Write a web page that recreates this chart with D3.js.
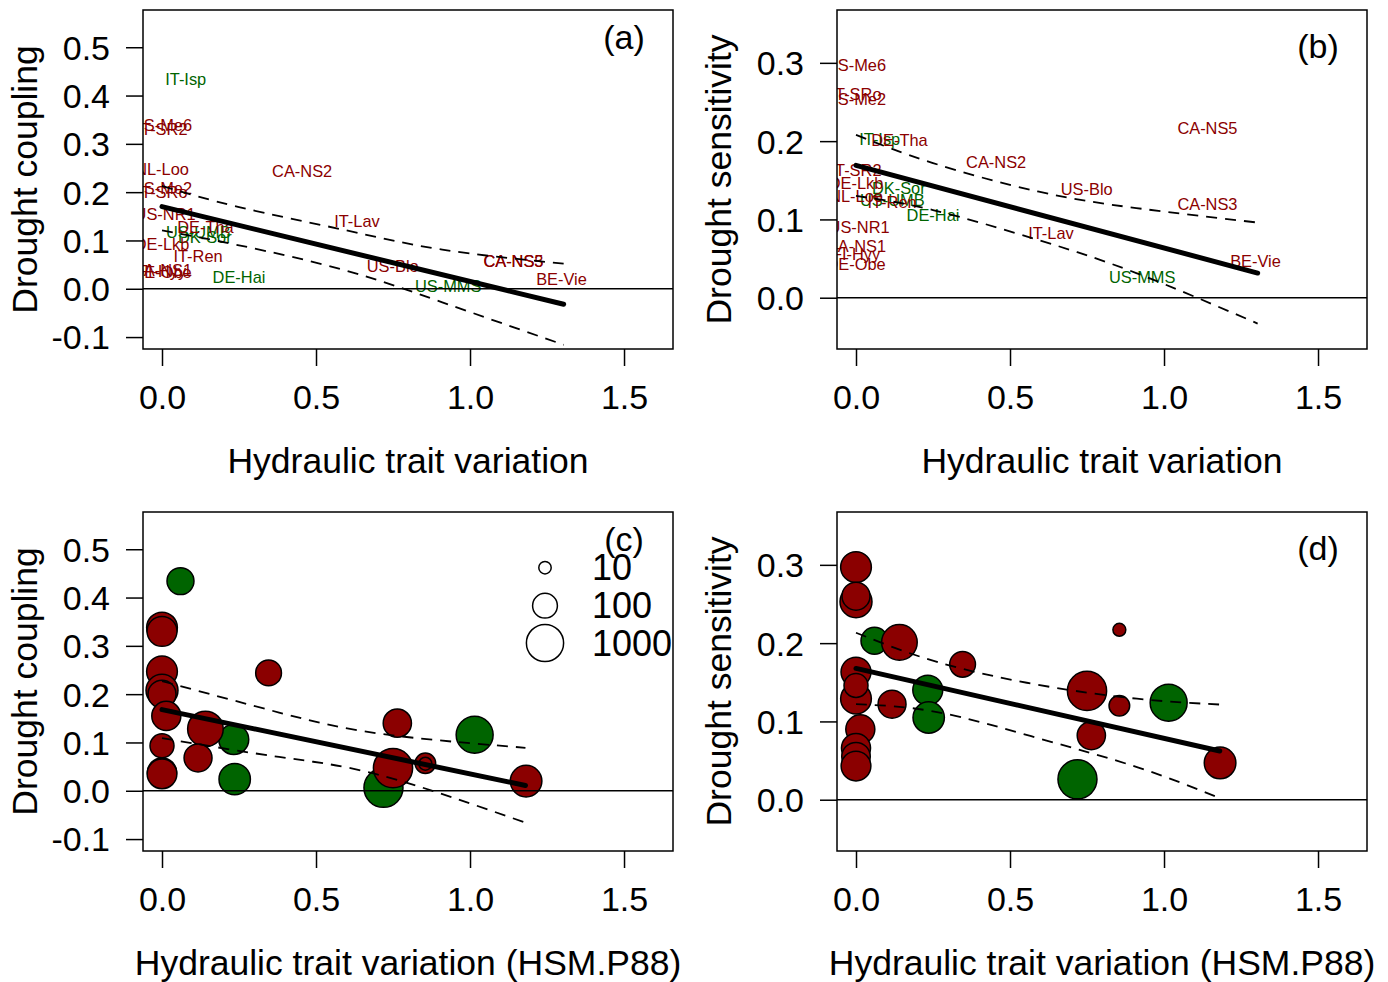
<!DOCTYPE html>
<html><head><meta charset="utf-8">
<script src="https://cdn.jsdelivr.net/npm/d3@7"></script>
<style>
body{margin:0;background:#fff}
svg{display:block}
text{font-family:"Liberation Sans",Arial,Helvetica,sans-serif}
</style>
</head><body>
<svg id="chart" width="1388" height="982"></svg>
<script>
// ---------------- DATA ----------------
const sites = ["IT-Isp","US-Me6","IT-SR2","NL-Loo","US-Me2","IT-SRo","CA-NS2","US-NR1","IT-Lav","DE-Tha","US-UMB","DK-Sor","DE-Lkb","IT-Ren","CA-NS3","CA-NS5","US-Blo","CA-NS1","FI-Hyy","DE-Obe","DE-Hai","BE-Vie","US-MMS"];
const pft = ["DBF","ENF","ENF","ENF","ENF","ENF","ENF","ENF","ENF","ENF","DBF","DBF","ENF","ENF","ENF","ENF","ENF","ENF","ENF","ENF","DBF","ENF","DBF"];
// Hydraulic trait variation (panels a, b)
const hydVar = [0.077,0,0,0,0,0,0.455,0.010,0.633,0.141,0.118,0.139,0,0.117,1.141,1.141,0.749,0,0,0,0.250,1.297,0.929];
// Hydraulic trait variation (HSM.P88) (panels c, d)
const hsmP88 = [0.060,0,0,0,0,0,0.346,0.014,0.764,0.141,1.015,0.233,0,0.117,0.855,0.855,0.750,0,0,0,0.236,1.182,0.719];
const coupling = [0.434,0.338,0.330,0.247,0.208,0.200,0.244,0.155,0.140,0.128,0.116,0.106,0.093,0.068,0.057,0.056,0.047,0.038,0.036,0.035,0.024,0.020,0.006];
const sensitivity = [0.203,0.297,0.163,0.129,0.253,0.260,0.173,0.090,0.082,0.201,0.124,0.140,0.146,0.122,0.120,0.217,0.139,0.066,0.055,0.043,0.105,0.047,0.026];
const sampleN = [150,300,260,300,380,180,120,220,190,740,960,260,86,180,46,11,1450,220,200,250,340,355,1400];
const legendN = [10,100,1000];

const xTicks = [0,0.5,1.0,1.5];
const couplingTicks = [-0.1,0,0.1,0.2,0.3,0.4,0.5];
const sensitivityTicks = [0,0.1,0.2,0.3];

// fitted lines and confidence bands
const fitA = {x:[0,1.304], y:[0.170,-0.032]};
const ciA = {x:[0,0.25,0.59,0.91,1.304], up:[0.213,0.169,0.122,0.081,0.052], lo:[0.121,0.090,0.039,-0.028,-0.116]};
const fitB = {x:[0,1.304], y:[0.169,0.0315]};
const ciB = {x:[0,0.25,0.59,0.91,1.304], up:[0.208,0.172,0.1357,0.1145,0.096], lo:[0.130,0.112,0.074,0.0315,-0.033]};
const fitC = {x:[0,1.18], y:[0.168,0.011]};
const ciC = {x:[0,0.38,0.71,1.18], up:[0.227,0.162,0.118,0.089], lo:[0.109,0.070,0.032,-0.066]};
const fitD = {x:[0,1.181], y:[0.1677,0.0622]};
const ciD = {x:[0,0.263,0.588,0.912,1.181], up:[0.2133,0.176,0.147,0.129,0.1216], lo:[0.122,0.112,0.079,0.0417,0.002]};

// ---------------- DRAWING ----------------
const colors = {ENF:"#8B0000", DBF:"#006400"};
const svg = d3.select("#chart");
const W = 530, H = 339;
const FONT = 34, TITLE_FONT = 35.5, LEGEND_FONT = 36;
const rScale = d3.scaleLog().domain([1,1000]).range([0,18.6]);

const panels = [
  {id:"a", left:143, top:10, xv:hydVar, yv:coupling, yDom:[-0.1247,0.5771], yTicks:couplingTicks, mode:"text",
   xTitle:"Hydraulic trait variation", yTitle:"Drought coupling", fit:fitA, ci:ciA, tagY:0.52},
  {id:"b", left:837, top:10, xv:hydVar, yv:sensitivity, yDom:[-0.0655,0.3675], yTicks:sensitivityTicks, mode:"text",
   xTitle:"Hydraulic trait variation", yTitle:"Drought sensitivity", fit:fitB, ci:ciB, tagY:0.322},
  {id:"c", left:143, top:512, xv:hsmP88, yv:coupling, yDom:[-0.1247,0.5771], yTicks:couplingTicks, mode:"bubble",
   xTitle:"Hydraulic trait variation (HSM.P88)", yTitle:"Drought coupling", fit:fitC, ci:ciC, tagY:0.52, legend:true},
  {id:"d", left:837, top:512, xv:hsmP88, yv:sensitivity, yDom:[-0.0655,0.3675], yTicks:sensitivityTicks, mode:"bubble",
   xTitle:"Hydraulic trait variation (HSM.P88)", yTitle:"Drought sensitivity", fit:fitD, ci:ciD, tagY:0.322}
];

const order = d3.range(sites.length).sort((a,b)=> (pft[a]===pft[b]?a-b:(pft[a]==="DBF"?-1:1)));
const fmt = d => d.toFixed(1);

panels.forEach(p => {
  const g = svg.append("g").attr("transform",`translate(${p.left},${p.top})`);
  const x = d3.scaleLinear().domain([-0.0617,1.659]).range([0,W]);
  const y = d3.scaleLinear().domain(p.yDom).range([H,0]);

  const clipId = "clip-"+p.id;
  g.append("clipPath").attr("id",clipId).append("rect").attr("width",W).attr("height",H);
  const plot = g.append("g").attr("clip-path",`url(#${clipId})`);

  if (p.mode === "text") {
    plot.selectAll("text.site").data(order).join("text")
      .attr("class","site")
      .attr("x", i => x(p.xv[i])).attr("y", i => y(p.yv[i]))
      .attr("dy","0.35em").attr("text-anchor","middle")
      .attr("font-size",16.4).attr("fill", i => colors[pft[i]])
      .text(i => sites[i]);
  } else {
    plot.selectAll("circle.site").data(order).join("circle")
      .attr("class","site")
      .attr("cx", i => x(p.xv[i])).attr("cy", i => y(p.yv[i]))
      .attr("r", i => rScale(sampleN[i]))
      .attr("fill", i => colors[pft[i]])
      .attr("stroke","#000").attr("stroke-width",1.5);
  }

  // zero line
  plot.append("line").attr("x1",0).attr("x2",W).attr("y1",y(0)).attr("y2",y(0))
    .attr("stroke","#000").attr("stroke-width",1.6);

  // confidence band
  const band = key => d3.line().curve(d3.curveNatural)
      .x((d,i)=>x(p.ci.x[i])).y(d=>y(d))(p.ci[key]);
  ["up","lo"].forEach(k=>{
    plot.append("path").attr("d",band(k)).attr("fill","none")
      .attr("stroke","#000").attr("stroke-width",1.8).attr("stroke-dasharray","11,8");
  });
  // fitted line
  plot.append("line")
    .attr("x1",x(p.fit.x[0])).attr("y1",y(p.fit.y[0]))
    .attr("x2",x(p.fit.x[1])).attr("y2",y(p.fit.y[1]))
    .attr("stroke","#000").attr("stroke-width",5).attr("stroke-linecap","round");

  // box
  g.append("rect").attr("width",W).attr("height",H).attr("fill","none")
    .attr("stroke","#000").attr("stroke-width",1.5);

  // axes
  const ax = g.append("g").attr("transform",`translate(0,${H})`)
    .call(d3.axisBottom(x).tickValues(xTicks).tickFormat(fmt).tickSize(17).tickSizeOuter(0).tickPadding(19));
  const ay = g.append("g")
    .call(d3.axisLeft(y).tickValues(p.yTicks).tickFormat(fmt).tickSize(17).tickSizeOuter(0).tickPadding(16));
  [ax,ay].forEach(a=>{
    a.select(".domain").remove();
    a.selectAll(".tick line").attr("stroke","#000").attr("stroke-width",1.5);
    a.selectAll(".tick text").attr("font-size",FONT).attr("fill","#000")
      .attr("font-family","\"Liberation Sans\",Arial,sans-serif");
  });
  ay.selectAll(".tick text").attr("dy","0.35em");

  // titles
  g.append("text").attr("x",W/2).attr("y",H+124).attr("text-anchor","middle")
    .attr("font-size",TITLE_FONT).text(p.xTitle);
  g.append("text").attr("transform",`translate(-106,${H/2}) rotate(-90)`).attr("text-anchor","middle")
    .attr("font-size",TITLE_FONT).text(p.yTitle);

  // panel tag
  g.append("text").attr("x",x(1.5)).attr("y",y(p.tagY)).attr("dy","0.35em").attr("text-anchor","middle")
    .attr("font-size",FONT).text(`(${p.id})`);

  // size legend
  if (p.legend) {
    const ly = [55.7, 93.7, 131];
    const lg = g.append("g");
    legendN.forEach((v,i)=>{
      lg.append("circle").attr("cx",402).attr("cy",ly[i]).attr("r",rScale(v))
        .attr("fill","#fff").attr("stroke","#000").attr("stroke-width",1.5);
      lg.append("text").attr("x",449).attr("y",ly[i]).attr("dy","0.35em")
        .attr("font-size",LEGEND_FONT).text(v);
    });
  }
});
</script>
</body></html>
